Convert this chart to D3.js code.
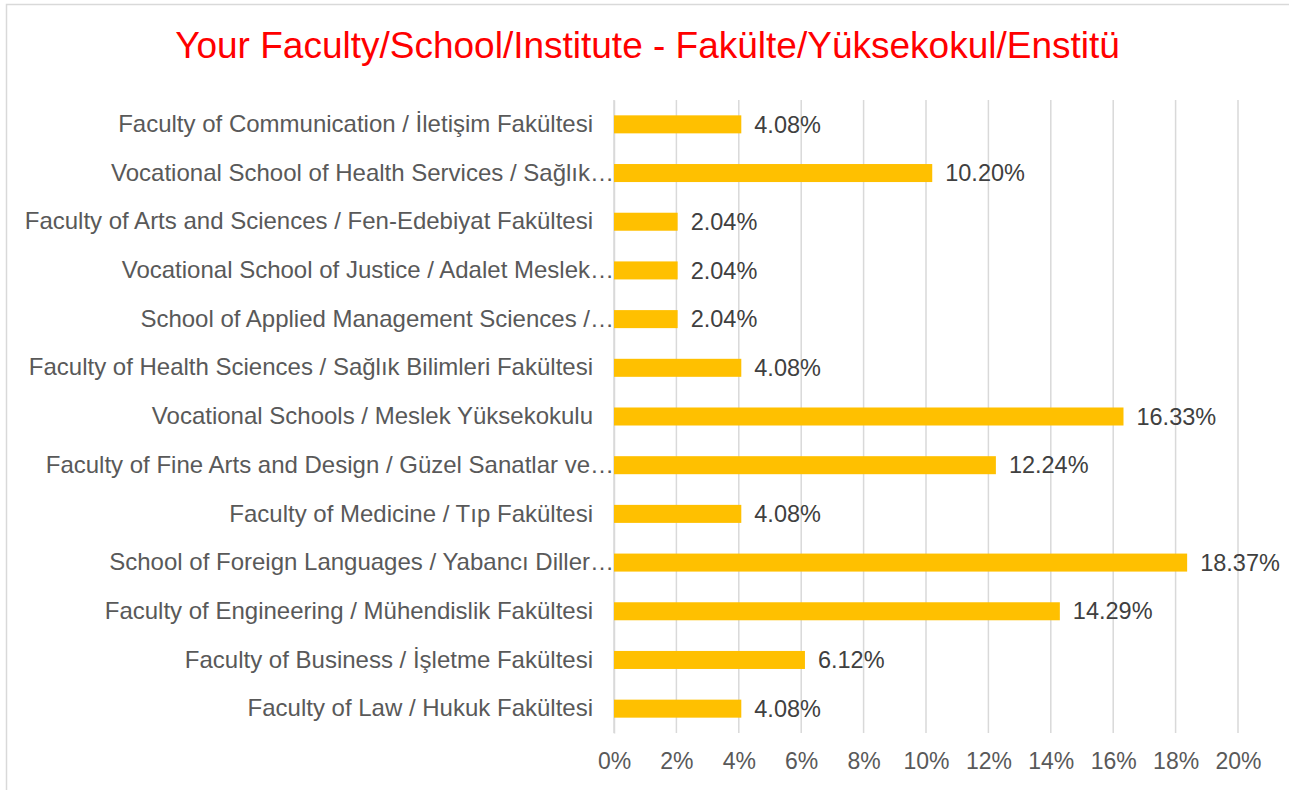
<!DOCTYPE html>
<html>
<head>
<meta charset="utf-8">
<script src="https://cdn.jsdelivr.net/npm/d3@7"></script>
<style>
  body { margin: 0; background: #fff; }
  text { font-family: "Liberation Sans", Arial, sans-serif; }
</style>
</head>
<body>
<script>
var categories = [
    "Faculty of Communication / İletişim Fakültesi",
    "Vocational School of Health Services / Sağlık…",
    "Faculty of Arts and Sciences / Fen-Edebiyat Fakültesi",
    "Vocational School of Justice / Adalet Meslek…",
    "School of Applied Management Sciences /…",
    "Faculty of Health Sciences / Sağlık Bilimleri Fakültesi",
    "Vocational Schools / Meslek Yüksekokulu",
    "Faculty of Fine Arts and Design / Güzel Sanatlar ve…",
    "Faculty of Medicine / Tıp Fakültesi",
    "School of Foreign Languages / Yabancı Diller…",
    "Faculty of Engineering / Mühendislik Fakültesi",
    "Faculty of Business / İşletme Fakültesi",
    "Faculty of Law / Hukuk Fakültesi"
];
var values = [4.08, 10.20, 2.04, 2.04, 2.04, 4.08, 16.33, 12.24, 4.08, 18.37, 14.29, 6.12, 4.08];
var ticks = [0, 2, 4, 6, 8, 10, 12, 14, 16, 18, 20];
var title = "Your Faculty/School/Institute - Fakülte/Yüksekokul/Enstitü";

var W = 1289, H = 790;
var margin = { top: 100, right: 51, bottom: 57, left: 614 },
    width = W - margin.left - margin.right,
    height = H - margin.top - margin.bottom;

var svg = d3.select('body')
    .append('svg')
    .attr('width', W)
    .attr('height', H);

// chart border
svg.append('rect')
    .attr('x', 6.5)
    .attr('y', 4.5)
    .attr('width', W + 10)
    .attr('height', H + 10)
    .attr('fill', '#fff')
    .attr('stroke', '#d9d9d9')
    .attr('stroke-width', 1.5);

svg.append('text')
    .attr('x', 647.5)
    .attr('y', 58)
    .attr('text-anchor', 'middle')
    .attr('font-size', 37)
    .attr('fill', '#FF0000')
    .text(title);

var canvas = svg.append('g')
    .attr('transform', 'translate(' + margin.left + ',' + margin.top + ')');

var x = d3.scaleLinear().domain([0, 20]).range([0, 624]);
var y = d3.scaleBand().domain(categories).range([0, height]).paddingInner(0.63).paddingOuter(0.315);

// gridlines
canvas.append('g')
    .selectAll('line')
    .data(ticks)
    .enter()
    .append('line')
    .attr('x1', function (d) { return x(d); })
    .attr('x2', function (d) { return x(d); })
    .attr('y1', 0)
    .attr('y2', height)
    .attr('stroke', '#d9d9d9')
    .attr('stroke-width', 1.5);

// x axis
var xAxis = canvas.append('g')
    .attr('transform', 'translate(0,' + height + ')')
    .call(d3.axisBottom(x).tickValues(ticks).tickSize(0).tickPadding(20)
        .tickFormat(function (d) { return d + '%'; }));
xAxis.select('.domain').remove();
xAxis.selectAll('text')
    .attr('font-size', 23)
    .attr('font-family', '"Liberation Sans", Arial, sans-serif')
    .attr('fill', '#595959');

// y axis
var yAxis = canvas.append('g')
    .call(d3.axisLeft(y).tickSize(0).tickPadding(21));
yAxis.select('.domain')
    .attr('stroke', '#d9d9d9')
    .attr('stroke-width', 1.5);
yAxis.selectAll('text')
    .attr('font-size', 24)
    .attr('font-family', '"Liberation Sans", Arial, sans-serif')
    .attr('fill', '#595959')
    .attr('dx', function (d) { return d.slice(-1) === '…' ? 21 : 0; });

// bars
canvas.selectAll('.bar')
    .data(values)
    .enter()
    .append('rect')
    .attr('class', 'bar')
    .attr('x', x(0))
    .attr('y', function (d, i) { return y(categories[i]); })
    .attr('width', function (d) { return x(d) - x(0); })
    .attr('height', y.bandwidth())
    .attr('fill', '#FFC000');

canvas.selectAll('.value')
    .data(values)
    .enter()
    .append('text')
    .attr('class', 'value')
    .attr('x', function (d) { return x(d) + 13; })
    .attr('y', function (d, i) { return y(categories[i]) + y.bandwidth() / 2; })
    .attr('dy', '0.35em')
    .attr('font-size', 23.5)
    .attr('fill', '#404040')
    .text(function (d) { return d.toFixed(2) + '%'; });
</script>
</body>
</html>
